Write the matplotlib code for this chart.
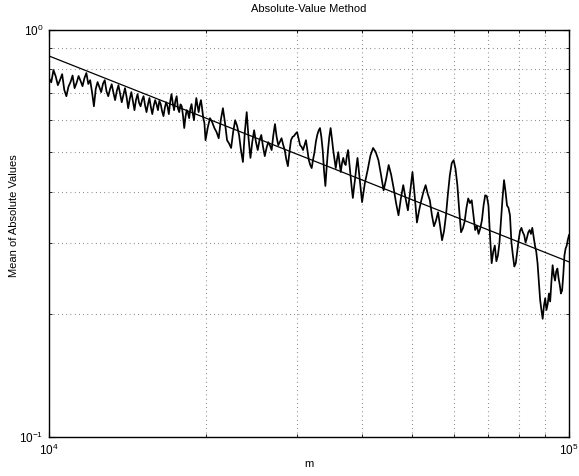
import matplotlib
matplotlib.use("Agg")
import matplotlib.pyplot as plt
from matplotlib.ticker import LogLocator, NullFormatter
import numpy as np

plt.rcParams['font.family'] = ['Liberation Sans', 'DejaVu Sans']
plt.rcParams['mathtext.fontset'] = 'custom'
plt.rcParams['mathtext.rm'] = 'Liberation Sans'
plt.rcParams['mathtext.it'] = 'Liberation Sans'
plt.rcParams['mathtext.bf'] = 'Liberation Sans'

# ---- data ----
# sample positions of m
m_left = list(range(10000, 20000, 100))
m_mid = list(range(20000, 40000, 200))
m_right = list(range(40000, 100001, 500))

vals_left = [
    0.760, 0.742, 0.795, 0.768, 0.730, 0.752, 0.777, 0.711, 0.686, 0.724,
    0.743, 0.771, 0.718, 0.740, 0.769, 0.748, 0.726, 0.760, 0.782, 0.735,
    0.751, 0.702, 0.648, 0.715, 0.743, 0.722, 0.702, 0.736, 0.751, 0.705,
    0.686, 0.713, 0.734, 0.700, 0.671, 0.706, 0.730, 0.695, 0.663, 0.690,
    0.718, 0.683, 0.641, 0.676, 0.702, 0.668, 0.634, 0.672, 0.694, 0.661,
    0.648, 0.671, 0.686, 0.652, 0.627, 0.655, 0.679, 0.645, 0.620, 0.650,
    0.671, 0.655, 0.634, 0.668, 0.656, 0.630, 0.613, 0.642, 0.663, 0.648,
    0.620, 0.664, 0.694, 0.660, 0.634, 0.668, 0.686, 0.640, 0.627, 0.655,
    0.648, 0.615, 0.573, 0.610, 0.634, 0.625, 0.606, 0.640, 0.656, 0.622,
    0.599, 0.640, 0.679, 0.650, 0.627, 0.655, 0.671, 0.640, 0.606, 0.590,
]
vals_mid = [
    0.535, 0.575, 0.606, 0.592, 0.573, 0.560, 0.541, 0.600, 0.641, 0.590,
    0.535, 0.525, 0.512, 0.560, 0.599, 0.580, 0.551, 0.505, 0.473, 0.560,
    0.627, 0.540, 0.484, 0.530, 0.566, 0.530, 0.506, 0.535, 0.551, 0.515,
    0.489, 0.512, 0.529, 0.520, 0.506, 0.550, 0.586, 0.545, 0.520, 0.530,
    0.541, 0.522, 0.506, 0.480, 0.462, 0.500, 0.535, 0.545, 0.548, 0.555,
    0.560, 0.540, 0.520, 0.515, 0.506, 0.520, 0.535, 0.505, 0.478, 0.465,
    0.457, 0.480, 0.500, 0.530, 0.551, 0.565, 0.573, 0.545, 0.506, 0.450,
    0.413, 0.460, 0.506, 0.545, 0.573, 0.540, 0.506, 0.480, 0.457, 0.480,
    0.500, 0.470, 0.447, 0.470, 0.484, 0.470, 0.465, 0.490, 0.506, 0.470,
    0.439, 0.410, 0.386, 0.410, 0.432, 0.460, 0.484, 0.455, 0.427, 0.400,
]
vals_right = [
    0.377, 0.420, 0.452, 0.490, 0.512, 0.500, 0.478, 0.440, 0.403, 0.430,
    0.465, 0.440, 0.408, 0.375, 0.350, 0.385, 0.415, 0.385, 0.360, 0.400,
    0.447, 0.390, 0.336, 0.360, 0.381, 0.400, 0.415, 0.395, 0.381, 0.350,
    0.329, 0.340, 0.356, 0.330, 0.304, 0.320, 0.350, 0.395, 0.439, 0.470,
    0.478, 0.455, 0.415, 0.360, 0.318, 0.325, 0.338, 0.365, 0.385, 0.375,
    0.381, 0.350, 0.322, 0.330, 0.315, 0.325, 0.340, 0.370, 0.392, 0.390,
    0.370, 0.310, 0.267, 0.285, 0.295, 0.270, 0.279, 0.300, 0.340, 0.385,
    0.427, 0.400, 0.370, 0.365, 0.350, 0.300, 0.279, 0.262, 0.267, 0.285,
    0.304, 0.320, 0.326, 0.318, 0.313, 0.300, 0.308, 0.318, 0.322, 0.315,
    0.326, 0.310, 0.295, 0.285, 0.267, 0.240, 0.217, 0.205, 0.195, 0.210,
    0.219, 0.205, 0.212, 0.225, 0.215, 0.240, 0.264, 0.250, 0.242, 0.255,
    0.259, 0.245, 0.236, 0.225, 0.229, 0.250, 0.279, 0.290, 0.295, 0.305,
    0.313,
]
m_vals = m_left + m_mid + m_right
mean_abs = vals_left + vals_mid + vals_right

fit_m = [10000, 100000]
fit_vals = [0.861, 0.269]

title = "Absolute-Value Method"
xlabel = "m"
ylabel = "Mean of Absolute Values"

# ---- figure ----
fig = plt.figure(figsize=(5.79, 4.76), dpi=100)
ax = fig.add_axes([49/579, 1-437/476, 520/579, (437-29.5)/476])

ax.plot(m_vals, mean_abs, color='black', lw=1.25, zorder=3)
ax.plot(fit_m, fit_vals, color='black', lw=0.9, zorder=3)

ax.set_xscale('log')
ax.set_yscale('log')
ax.set_xlim(1e4, 1e5)
ax.set_ylim(1e-1, 1e0)

ax.xaxis.set_major_locator(LogLocator(base=10, numticks=10))
ax.yaxis.set_major_locator(LogLocator(base=10, numticks=10))
ax.xaxis.set_minor_locator(LogLocator(base=10, subs=np.arange(2, 10), numticks=20))
ax.yaxis.set_minor_locator(LogLocator(base=10, subs=np.arange(2, 10), numticks=20))
ax.xaxis.set_minor_formatter(NullFormatter())
ax.yaxis.set_minor_formatter(NullFormatter())

ax.grid(True, which='both', color='0.35', linestyle=(0, (0.6, 3.2)), lw=0.8)
ax.set_axisbelow(True)

ax.tick_params(which='both', direction='in', top=True, right=True,
               labelsize=8.5, colors='black')
ax.tick_params(which='major', length=4, width=0.8, pad=4)
ax.tick_params(which='minor', length=2, width=0.6)
for s in ax.spines.values():
    s.set_linewidth(1.0)

ax.set_title(title, fontsize=8, pad=12.5)
ax.set_xlabel(xlabel, fontsize=8, labelpad=1)
ax.set_ylabel(ylabel, fontsize=8)
ax.yaxis.set_label_coords(-0.058, 0.543)

fig.savefig("out.png", dpi=100)
